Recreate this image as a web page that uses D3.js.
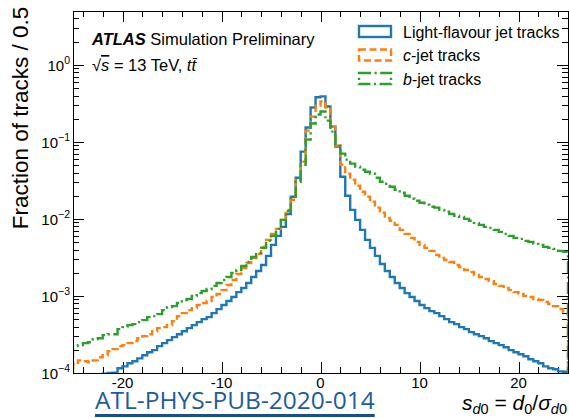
<!DOCTYPE html>
<html>
<head>
<meta charset="utf-8">
<script src="https://cdn.jsdelivr.net/npm/d3@7/dist/d3.min.js"></script>
<style>
body{margin:0;background:#fff;}
svg{display:block;}
text{font-family:"Liberation Sans",Arial,Helvetica,sans-serif;fill:#000;}
</style>
</head>
<body>
<script>
// s_d0 histogram: 100 bins of width 0.5 between -25 and 25
var binLo = -25, binW = 0.5;

var lightTracks = [
  0.000072,0.000076,0.000080,0.000084,0.000089,0.000094,0.000098,0.000100,0.000101,0.000115,
  0.000122,0.000134,0.000142,0.000155,0.000170,0.000186,0.000198,0.000223,0.000244,0.000267,
  0.000292,0.000319,0.000349,0.000382,0.000418,0.000457,0.000500,0.000531,0.000598,0.000675,
  0.000762,0.000859,0.000968,0.00112,0.00127,0.00147,0.00176,0.00211,0.00252,0.00331,
  0.00460,0.00603,0.00789,0.0116,0.0194,0.0343,0.0748,0.154,0.280,0.380,
  0.390,0.288,0.158,0.0869,0.0353,0.0200,0.0131,0.00973,0.00721,0.00535,
  0.00421,0.00331,0.00260,0.00211,0.00176,0.00147,0.00127,0.00109,0.000968,0.000859,
  0.000762,0.000696,0.000635,0.000598,0.000547,0.000500,0.000457,0.000431,0.000394,0.000371,
  0.000339,0.000319,0.000301,0.000283,0.000259,0.000244,0.000230,0.000216,0.000198,0.000186,
  0.000175,0.000165,0.000151,0.000142,0.000134,0.000122,0.000115,0.000112,0.000105,0.000104
];

var cTracks = [
  0.000130,0.000146,0.000142,0.000138,0.000146,0.000160,0.000170,0.000192,0.000204,0.000223,
  0.000230,0.000244,0.000259,0.000283,0.000301,0.000319,0.000349,0.000382,0.000394,0.000418,
  0.000471,0.000547,0.000598,0.000655,0.000696,0.000762,0.000809,0.000859,0.000968,0.00106,
  0.00119,0.00139,0.00161,0.00193,0.00231,0.00268,0.00311,0.00352,0.00434,0.00535,
  0.00640,0.00743,0.00973,0.0131,0.0177,0.0323,0.0554,0.140,0.213,0.297,
  0.335,0.280,0.158,0.0895,0.0506,0.0386,0.0323,0.0270,0.0225,0.0194,
  0.0167,0.0140,0.0120,0.0103,0.00945,0.00838,0.00721,0.00640,0.00568,0.00504,
  0.00460,0.00421,0.00385,0.00341,0.00311,0.00293,0.00276,0.00252,0.00238,0.00217,
  0.00205,0.00187,0.00176,0.00166,0.00156,0.00143,0.00135,0.00127,0.00119,0.00112,
  0.00106,0.000998,0.000968,0.000912,0.000885,0.000834,0.000785,0.000739,0.000675,0.000617
];

var bTracks = [
  0.000223,0.000230,0.000244,0.000251,0.000275,0.000283,0.000310,0.000319,0.000319,0.000371,
  0.000394,0.000418,0.000431,0.000457,0.000485,0.000531,0.000547,0.000581,0.000655,0.000717,
  0.000739,0.000809,0.000885,0.000912,0.000998,0.00109,0.00116,0.00123,0.00135,0.00147,
  0.00161,0.00176,0.00199,0.00217,0.00245,0.00276,0.00321,0.00362,0.00421,0.00519,
  0.00603,0.00743,0.00973,0.0127,0.0194,0.0304,0.0506,0.107,0.173,0.227,
  0.248,0.189,0.136,0.0895,0.0704,0.0588,0.0522,0.0477,0.0435,0.0410,
  0.0386,0.0343,0.0304,0.0286,0.0262,0.0239,0.0219,0.0200,0.0183,0.0172,
  0.0162,0.0153,0.0144,0.0140,0.0131,0.0124,0.0116,0.0110,0.0106,0.0100,
  0.00945,0.00889,0.00838,0.00789,0.00766,0.00721,0.00679,0.00640,0.00603,0.00568,
  0.00551,0.00519,0.00504,0.00474,0.00460,0.00434,0.00421,0.00408,0.00385,0.00373
];

var xMajor = [-20, -10, 0, 10, 20];
var xLabels = ["-20", "-10", "0", "10", "20"];
var yMajor = [1e-4, 1e-3, 1e-2, 1e-1, 1];
var yExp = ["\u22124", "\u22123", "\u22122", "\u22121", "0"];

var W = 569, H = 418;
var L = 73, R = 568, T = 11, B = 373;

var svg = d3.select("body").append("svg").attr("width", W).attr("height", H);

var x = d3.scaleLinear().domain([-25, 25]).range([L, R]);
var y = d3.scaleLog().domain([1e-4, 5]).range([B, T]);

// minor ticks
var xMinor = d3.range(-24, 25, 2).filter(function(v){ return v % 10 !== 0; });
var yMinor = [];
[-4, -3, -2, -1, 0].forEach(function(e){
  for (var m = 2; m <= 9; m++) { var v = m * Math.pow(10, e); if (v <= 5) yMinor.push(v); }
});

function tickAxis(gen, scale, vals, size, tf) {
  var g = svg.append("g").attr("transform", tf)
    .call(gen(scale).tickValues(vals).tickSize(size).tickSizeOuter(0).tickFormat(""));
  g.select(".domain").remove();
  g.selectAll("line").attr("stroke", "#000").attr("stroke-width", 1).attr("shape-rendering", "crispEdges");
  return g;
}
tickAxis(d3.axisBottom, x, xMajor, -11, "translate(0," + B + ")");
tickAxis(d3.axisBottom, x, xMinor, -6, "translate(0," + B + ")");
tickAxis(d3.axisTop, x, xMajor, -11, "translate(0," + T + ")");
tickAxis(d3.axisTop, x, xMinor, -6, "translate(0," + T + ")");
tickAxis(d3.axisLeft, y, yMajor, -11, "translate(" + L + ",0)");
tickAxis(d3.axisLeft, y, yMinor, -6, "translate(" + L + ",0)");
tickAxis(d3.axisRight, y, yMajor, -11, "translate(" + R + ",0)");
tickAxis(d3.axisRight, y, yMinor, -6, "translate(" + R + ",0)");

// histograms
svg.append("clipPath").attr("id", "plotclip").append("rect")
  .attr("x", L).attr("y", T).attr("width", R - L).attr("height", B - T);

function stepPoints(vals) {
  var pts = [[binLo, 1e-6]];
  vals.forEach(function(v, i){ pts.push([binLo + i * binW, v]); });
  var hi = binLo + vals.length * binW;
  pts.push([hi, vals[vals.length - 1]]);
  pts.push([hi, 1e-6]);
  return pts;
}
var line = d3.line()
  .x(function(d){ return x(d[0]); })
  .y(function(d){ return y(d[1]); })
  .curve(d3.curveStepAfter);

var series = [
  {vals: lightTracks, color: "#1f77b4", dash: null},
  {vals: cTracks, color: "#ff7f0e", dash: "7,3.5"},
  {vals: bTracks, color: "#2ca02c", dash: "12,3.5,2.2,3.5"}
];

var hg = svg.append("g").attr("clip-path", "url(#plotclip)");
series.forEach(function(s){
  hg.append("path").attr("d", line(stepPoints(s.vals)))
    .attr("fill", "none").attr("stroke", s.color).attr("stroke-width", 2.4)
    .attr("stroke-dasharray", s.dash);
});

// frame
svg.append("rect").attr("x", L).attr("y", T).attr("width", R - L).attr("height", B - T)
  .attr("fill", "none").attr("stroke", "#000").attr("stroke-width", 1).attr("shape-rendering", "crispEdges");

// tick labels
svg.append("g").selectAll("text").data(xMajor).enter().append("text")
  .attr("x", function(d){ return x(d); }).attr("y", B + 15)
  .attr("text-anchor", "middle").style("font-size", "15px")
  .text(function(d, i){ return xLabels[i]; });

var yl = svg.append("g").selectAll("text").data(yMajor).enter().append("text")
  .attr("x", L - 3).attr("y", function(d){ return y(d) + 6; })
  .attr("text-anchor", "end").style("font-size", "15px");
yl.append("tspan").text("10");
yl.append("tspan").attr("dy", -7).style("font-size", "10.5px").text(function(d, i){ return yExp[i]; });

// axis titles
svg.append("text").attr("transform", "translate(28,118) rotate(-90)")
  .attr("text-anchor", "middle").style("font-size", "22.5px").text("Fraction of tracks / 0.5");

var xt = svg.append("text").attr("x", 567).attr("y", 410).attr("text-anchor", "end").style("font-size", "21px");
xt.append("tspan").style("font-style", "italic").text("s");
xt.append("tspan").attr("dy", 4).style("font-size", "14.5px").style("font-style", "italic").text("d");
xt.append("tspan").style("font-size", "14.5px").text("0");
xt.append("tspan").attr("dy", -4).text(" = ");
xt.append("tspan").style("font-style", "italic").text("d");
xt.append("tspan").attr("dy", 4).style("font-size", "14.5px").text("0");
xt.append("tspan").attr("dy", -4).text("/");
xt.append("tspan").style("font-style", "italic").text("\u03c3");
xt.append("tspan").attr("dy", 4).style("font-size", "14.5px").style("font-style", "italic").text("d");
xt.append("tspan").style("font-size", "14.5px").text("0");

// ATLAS label
var at = svg.append("text").attr("x", 92).attr("y", 45).style("font-size", "16.5px");
at.append("tspan").style("font-weight", "bold").style("font-style", "italic").text("ATLAS");
at.append("tspan").text(" Simulation Preliminary");

var en = svg.append("text").attr("x", 92).attr("y", 71).style("font-size", "16.5px");
en.append("tspan").text("\u221a");
en.append("tspan").style("font-style", "italic").style("text-decoration", "overline").text("s");
en.append("tspan").text(" = 13 TeV, ");
en.append("tspan").style("font-style", "italic").text("t");
en.append("tspan").style("font-style", "italic").text("t\u0304");

// legend
var legend = svg.append("g").attr("transform", "translate(358,25)");
var legendText = [["", "Light-flavour jet tracks"], ["c", "-jet tracks"], ["b", "-jet tracks"]];
series.forEach(function(s, i){
  var row = legend.append("g").attr("transform", "translate(0," + (i * 23.5) + ")");
  row.append("rect").attr("x", 1).attr("y", 1).attr("width", 32).attr("height", 11)
    .attr("fill", "none").attr("stroke", s.color).attr("stroke-width", 2.4)
    .attr("stroke-dasharray", s.dash);
  var t = row.append("text").attr("x", 45).attr("y", 12.5).style("font-size", "16px");
  if (legendText[i][0]) t.append("tspan").style("font-style", "italic").text(legendText[i][0]);
  t.append("tspan").text(legendText[i][1]);
});

// note reference
var ref = svg.append("text").attr("x", 95).attr("y", 409)
  .style("font-family", "'Open Sans', sans-serif").style("font-size", "24.5px")
  .style("fill", "#1f5c9d").text("ATL-PHYS-PUB-2020-014");
var rb = ref.node().getBBox();
svg.append("line").attr("x1", rb.x).attr("x2", rb.x + rb.width).attr("y1", 415.5).attr("y2", 415.5)
  .attr("stroke", "#1a4f8a").attr("stroke-width", 3);
</script>
</body>
</html>
